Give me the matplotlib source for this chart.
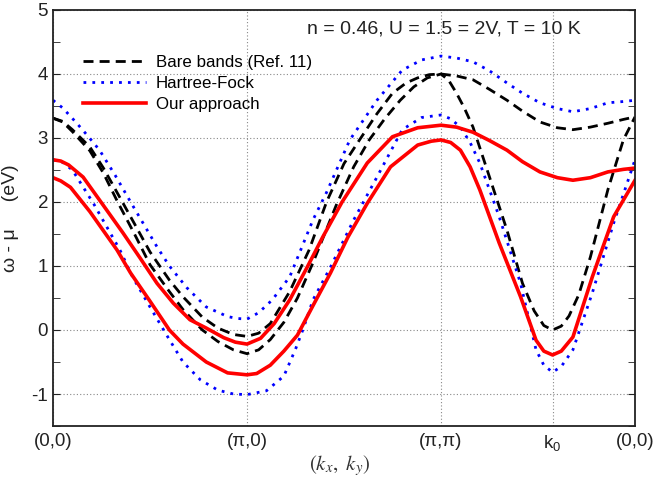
import numpy as np
import matplotlib
matplotlib.use('Agg')
import matplotlib.pyplot as plt

plt.rcParams['font.family'] = ['Liberation Sans', 'DejaVu Sans']
plt.rcParams['mathtext.fontset'] = 'stix'
plt.rcParams['axes.unicode_minus'] = False

# k-path: (0,0)->(pi,0)->(pi,pi)->k0->(0,0), drawn on 0..3
tick_pos = [0, 1, 2, 2.575, 3]
tick_lab = ['(0,0)', u'(\u03c0,0)', u'(\u03c0,\u03c0)', r'$\mathregular{k_0}$', '(0,0)']

# bare bands (Ref. 11)
bare1_x = [0, 0.05, 0.1, 0.19, 0.26, 0.33, 0.42, 0.5, 0.6, 0.67, 0.77, 0.85, 0.93, 1.0, 1.06, 1.12, 1.22, 1.32,
           1.41, 1.5, 1.58, 1.67, 1.75, 1.82, 1.88, 1.94, 2.0, 2.08, 2.165, 2.25, 2.34, 2.42, 2.51, 2.6, 2.68,
           2.77, 2.86, 2.94, 3.0]
bare1_y = [3.31, 3.26, 3.13, 2.86, 2.53, 2.15, 1.66, 1.22, 0.78, 0.52, 0.2, 0.03, -0.07, -0.10, -0.05, 0.10,
           0.60, 1.25, 2.0, 2.6, 2.97, 3.38, 3.70, 3.86, 3.94, 3.99, 4.0, 3.97, 3.91, 3.76, 3.59, 3.42, 3.25,
           3.16, 3.13, 3.17, 3.23, 3.29, 3.33]
bare2_x = [0, 0.05, 0.1, 0.19, 0.26, 0.33, 0.42, 0.5, 0.6, 0.67, 0.77, 0.85, 0.93, 1.0, 1.06, 1.12, 1.19, 1.26,
           1.34, 1.46, 1.55, 1.63, 1.71, 1.79, 1.86, 1.93, 2.0, 2.04, 2.08, 2.12, 2.165, 2.25, 2.34, 2.42, 2.48,
           2.53, 2.575, 2.62, 2.66, 2.71, 2.77, 2.86, 2.94, 3.0]
bare2_y = [3.31, 3.25, 3.10, 2.80, 2.45, 2.02, 1.50, 1.02, 0.60, 0.32, 0.0, -0.18, -0.31, -0.37, -0.31, -0.15,
           0.12, 0.50, 1.05, 1.95, 2.55, 2.97, 3.30, 3.59, 3.80, 3.94, 4.0, 3.90, 3.70, 3.47, 3.17, 2.39, 1.56,
           0.73, 0.30, 0.07, 0.0, 0.06, 0.22, 0.55, 1.14, 2.19, 2.97, 3.33]

# Hartree-Fock
hf1_x = [0, 0.05, 0.12, 0.18, 0.24, 0.32, 0.40, 0.47, 0.536, 0.60, 0.69, 0.79, 0.9, 0.95, 1.0, 1.06, 1.13, 1.22,
         1.27, 1.34, 1.41, 1.53, 1.67, 1.80, 1.9, 2.0, 2.08, 2.165, 2.25, 2.34, 2.42, 2.51, 2.6, 2.68, 2.77,
         2.86, 2.94, 3.0]
hf1_y = [3.59, 3.47, 3.24, 3.03, 2.81, 2.42, 2.0, 1.64, 1.30, 1.0, 0.66, 0.36, 0.21, 0.18, 0.17, 0.27, 0.47,
         0.83, 1.2, 1.72, 2.15, 2.97, 3.59, 4.06, 4.22, 4.28, 4.25, 4.19, 4.05, 3.86, 3.70, 3.55, 3.46, 3.41,
         3.46, 3.55, 3.57, 3.59]
hf2_x = [0, 0.05, 0.1, 0.21, 0.345, 0.41, 0.5, 0.59, 0.67, 0.76, 0.85, 0.93, 1.0, 1.1, 1.19, 1.25, 1.29, 1.34,
         1.43, 1.55, 1.67, 1.80, 1.9, 2.0, 2.05, 2.10, 2.15, 2.20, 2.30, 2.41, 2.49, 2.53, 2.575, 2.62, 2.68,
         2.78, 2.89, 3.0]
hf2_y = [2.66, 2.62, 2.5, 1.97, 1.25, 0.83, 0.36, -0.1, -0.5, -0.78, -0.94, -1.0, -1.01, -0.95, -0.72, -0.3,
         0.02, 0.47, 0.98, 1.72, 2.39, 3.13, 3.32, 3.36, 3.30, 3.17, 2.93, 2.61, 1.77, 0.73, -0.31, -0.55, -0.66,
         -0.57, -0.31, 0.58, 1.67, 2.66]

# our approach
our1_x = [0, 0.04, 0.08, 0.155, 0.24, 0.36, 0.45, 0.536, 0.62, 0.706, 0.79, 0.88, 0.94, 1.0, 1.07, 1.14, 1.22,
          1.31, 1.39, 1.49, 1.62, 1.75, 1.88, 2.0, 2.08, 2.165, 2.25, 2.34, 2.42, 2.51, 2.6, 2.68, 2.77, 2.86,
          2.94, 3.0]
our1_y = [2.66, 2.64, 2.58, 2.39, 2.03, 1.52, 1.12, 0.73, 0.42, 0.16, 0.03, -0.12, -0.19, -0.22, -0.13, 0.1,
          0.47, 0.98, 1.45, 2.0, 2.61, 3.02, 3.16, 3.20, 3.17, 3.09, 2.96, 2.81, 2.63, 2.47, 2.38, 2.34, 2.38,
          2.47, 2.51, 2.53]
our2_x = [0, 0.04, 0.09, 0.19, 0.26, 0.33, 0.40, 0.50, 0.6, 0.67, 0.79, 0.9, 1.0, 1.05, 1.12, 1.19, 1.26, 1.34,
          1.43, 1.52, 1.62, 1.74, 1.88, 1.95, 2.0, 2.05, 2.10, 2.15, 2.20, 2.30, 2.41, 2.49, 2.53, 2.575, 2.62,
          2.68, 2.78, 2.89, 3.0]
our2_y = [2.38, 2.33, 2.23, 1.85, 1.55, 1.25, 0.89, 0.45, 0.0, -0.22, -0.5, -0.67, -0.70, -0.68, -0.55, -0.33,
          -0.08, 0.38, 0.89, 1.45, 1.98, 2.55, 2.89, 2.95, 2.97, 2.93, 2.81, 2.55, 2.19, 1.36, 0.52, -0.16, -0.33,
          -0.39, -0.33, -0.11, 0.83, 1.77, 2.34]

fig = plt.figure(figsize=(6.56, 4.86), dpi=100)
ax = fig.add_axes([53/656, 1-426/486, 582/656, 416/486])

dash = (0, (3.6, 2.2))
dots = (0, (1, 2.2))
ax.plot(bare1_x, bare1_y, color='k', lw=2, ls=dash, label='Bare bands (Ref. 11)')
ax.plot(bare2_x, bare2_y, color='k', lw=2, ls=dash)
ax.plot(hf1_x, hf1_y, color='#0000ff', lw=2, ls=dots, label='Hartree-Fock')
ax.plot(hf2_x, hf2_y, color='#0000ff', lw=2, ls=dots)
ax.plot(our1_x, our1_y, color='#ff0000', lw=2.6, label='Our approach')
ax.plot(our2_x, our2_y, color='#ff0000', lw=2.6)

ax.set_xlim(0, 3)
ax.set_ylim(-1.5, 5)
ax.set_xticks(tick_pos)
ax.set_xticklabels(tick_lab)
ax.set_yticks(np.arange(-1, 6, 1))
ax.set_yticks(np.arange(-1.5, 5.01, 0.5), minor=True)
ax.tick_params(axis='both', which='both', direction='in', labelsize=13.5, colors='#222222',
               right=True, top=False)
ax.tick_params(axis='y', which='both', length=5)
ax.tick_params(axis='x', length=0, pad=5)
ax.grid(True, which='major', ls=(0, (1, 2)), color='#888888', lw=0.8)
for s in ax.spines.values():
    s.set_linewidth(1.3)
    s.set_color('#222222')

ax.set_ylabel(u'\u03c9 - \u03bc     (eV)', fontsize=14, color='#222222')
ax.yaxis.set_label_coords(-0.058, 0.5)
fig.text(340/656, 1-466/486, r'$(k_x,\ k_y)$', fontsize=15, color='#333333', ha='center', va='center')

ax.text((581-53)/582, 1-(29-10)/416, 'n = 0.46, U = 1.5 = 2V, T = 10 K', fontsize=14,
        ha='right', va='center', color='#222222', transform=ax.transAxes)

ax.legend(loc='upper left', bbox_to_anchor=((83-53)/582, 1-(55-10)/416), frameon=False, fontsize=12.2,
          borderpad=0, borderaxespad=0, handlelength=3.7, handletextpad=0.6, labelspacing=0.35)

plt.savefig('out.png', dpi=100)
